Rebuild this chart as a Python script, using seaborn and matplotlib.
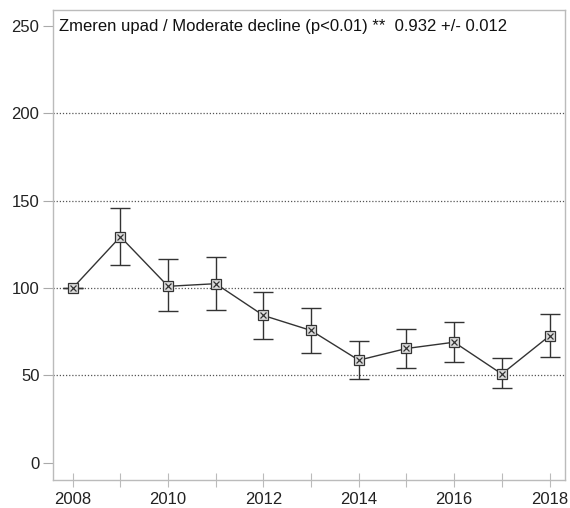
import numpy as np
import pandas as pd
import seaborn as sns
import matplotlib.pyplot as plt

# index values
years = [2008, 2009, 2010, 2011, 2012, 2013, 2014, 2015, 2016, 2017, 2018]
index = [100, 129.4, 101, 102.5, 84.3, 75.7, 58.7, 65.4, 69, 50.8, 72.6]
upper = [100, 146, 116.4, 118, 97.5, 88.3, 69.6, 76.4, 80.7, 59.8, 84.9]
lower = [100, 113, 86.6, 87.2, 70.9, 63, 47.8, 54.3, 57.9, 42.6, 60.8]
y_ticks = [0, 50, 100, 150, 200, 250]
grid_levels = [50, 100, 150, 200]
label = 'Zmeren upad / Moderate decline (p<0.01) **  0.932 +/- 0.012'

df = pd.DataFrame({'year': years, 'index': index, 'upper': upper, 'lower': lower})

sns.set_style('white')
plt.rcParams['font.family'] = ['Liberation Sans', 'DejaVu Sans']

fig = plt.figure(figsize=(5.7, 5.08), dpi=100)
ax = fig.add_axes([53.3 / 570, 1 - 480 / 508, 511.7 / 570, 470 / 508])

for g in grid_levels:
    ax.axhline(g, color='#555555', lw=0.9, ls=(0, (1, 1.5)), zorder=0)

ax.errorbar(df['year'], df['index'],
            yerr=[df['index'] - df['lower'], df['upper'] - df['index']],
            fmt='none', ecolor='#333333', elinewidth=1.0, capsize=7, capthick=1.0)
sns.lineplot(data=df, x='year', y='index', color='#333333', lw=1.0, ax=ax)
ax.plot(df['year'], df['index'], ls='none', marker='s', ms=7, mfc='#dddddd',
        mec='#333333', mew=0.9)
ax.plot(df['year'], df['index'], ls='none', marker='x', ms=5, color='#333333', mew=0.9)

ax.set_xlim(2007.593, 2018.325)
ax.set_ylim(-9.9, 259.2)
ax.set_yticks(y_ticks)
ax.set_xticks(years)
ax.set_xticklabels([str(y) if y % 2 == 0 else '' for y in years])
ax.tick_params(axis='y', direction='out', length=7, color='#aaaaaa',
               labelsize=12, labelcolor='#222222', left=True, pad=3)
ax.tick_params(axis='x', direction='inout', length=10, color='#bbbbbb',
               labelsize=12, labelcolor='#222222', bottom=True, pad=4)
ax.set_xlabel('')
ax.set_ylabel('')
for s in ax.spines.values():
    s.set_color('#bbbbbb')
    s.set_linewidth(1.0)

ax.text(2007.72, 250, label, fontsize=12, color='#111111', va='center', ha='left')

plt.savefig('out.png', dpi=100)
plt.close()
